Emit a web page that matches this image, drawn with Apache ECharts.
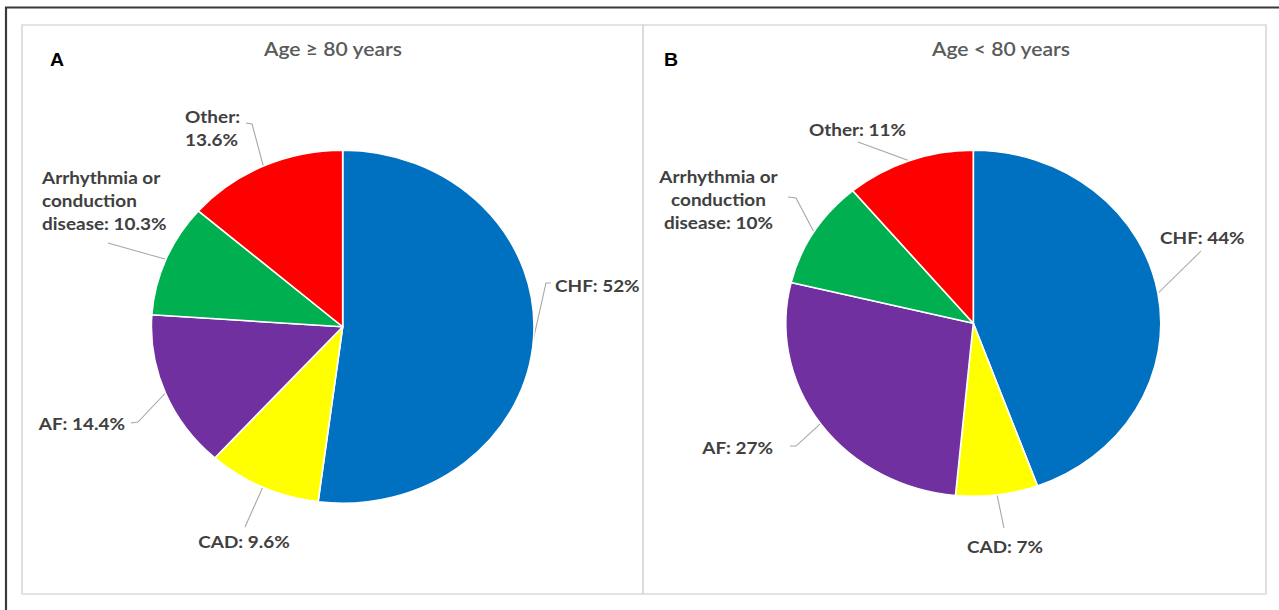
<!DOCTYPE html>
<html><head><meta charset="utf-8">
<script src="https://cdn.jsdelivr.net/npm/echarts@6/dist/echarts.min.js"></script>
<style>
html,body{margin:0;padding:0;background:#fff;overflow:hidden;width:1279px;height:610px}
#c{width:1180px;height:610px;transform:scaleX(1.083898);transform-origin:0 0}
</style></head><body><div id="c"></div>
<script>
// ---- data ----
const categories = ['CHF', 'CAD', 'AF', 'Arrhythmia or conduction disease', 'Other'];
const valuesA = [52, 9.6, 14.4, 10.3, 13.6];
const valuesB = [44, 7, 27, 10, 11];
const labelTplA = ['CHF: {v}%', 'CAD: {v}%', 'AF: {v}%', 'Arrhythmia or\nconduction\ndisease: {v}%', 'Other:\n{v}%'];
const labelTplB = ['CHF: {v}%', 'CAD: {v}%', 'AF: {v}%', 'Arrhythmia or\nconduction\ndisease: {v}%', 'Other: {v}%'];
const titles = ['Age \u2265 80 years', 'Age < 80 years'];
const panelLetters = ['A', 'B'];

// ---- styles / layout ----
const colors = ['#0070C0', '#FFFF00', '#7030A0', '#00B050', '#FF0000'];
const SX = 1279 / 1180; // horizontal stretch of the reference image
// label placement in page pixels; line = extra leader points from slice edge outward
const layoutA = [
  {x: 555, y: 285, align: 'left', line: [[546, 283], [551, 283]]},
  {x: 244, y: 541, align: 'center', line: [[245, 527]]},
  {x: 125, y: 423, align: 'right', line: [[138, 422], [131, 423]]},
  {x: 42, y: 200, align: 'left', line: [[108, 243]]},
  {x: 185, y: 127.5, align: 'left', line: [[252, 124], [246, 123]]}
];
const layoutB = [
  {x: 1160, y: 237, align: 'left', line: [[1201, 251]]},
  {x: 1005, y: 546, align: 'center', line: [[1004, 528]]},
  {x: 773, y: 447, align: 'right', line: [[796, 446], [790, 446]]},
  {x: 718.5, y: 199, align: 'center', line: [[796, 198], [788, 197]]},
  {x: 857.5, y: 129, align: 'center', line: [[858, 142]]}
];

function makeLayout(L) {
  return function (p) {
    const o = L[p.dataIndex];
    const pts = [p.labelLinePoints[0]].concat(o.line.map(q => [q[0] / SX, q[1]]));
    return {x: o.x / SX, y: o.y, align: o.align, verticalAlign: 'middle', labelLinePoints: pts};
  };
}

function pieSeries(values, tpl, center, radius, layout) {
  return {
    type: 'pie',
    center: center,
    radius: radius,
    startAngle: 90,
    clockwise: true,
    avoidLabelOverlap: false,
    animation: false,
    silent: true,
    data: categories.map((n, i) => ({name: n, value: values[i], itemStyle: {color: colors[i]}})),
    itemStyle: {borderColor: '#ffffff', borderWidth: 1.5},
    label: {
      show: true, position: 'outside', overflow: 'none',
      formatter: p => tpl[p.dataIndex].replace('{v}', String(values[p.dataIndex])),
      color: '#404040', fontFamily: 'Lato', fontWeight: 'bold', fontSize: 17.5, lineHeight: 23
    },
    labelLine: {show: true, length: 5, length2: 5, smooth: false, lineStyle: {color: '#a6a6a6', width: 1}},
    labelLayout: makeLayout(layout),
    emphasis: {disabled: true}
  };
}

const titleStyle = {fontFamily: 'Lato', fontSize: 19.5, fontWeight: 600, fill: '#5a5a5a', align: 'center', verticalAlign: 'middle'};
const letterStyle = {fontFamily: 'Liberation Sans', fontWeight: 'bold', fontSize: 18, fill: '#000000', align: 'left', verticalAlign: 'middle'};

const chart = echarts.init(document.getElementById('c'), null, {renderer: 'svg'});
chart.setOption({
  backgroundColor: '#ffffff',
  animation: false,
  graphic: [
    {type: 'rect', silent: true, shape: {x: 6 / SX, y: 7.5, width: 1400, height: 800},
      style: {fill: 'none', stroke: '#3a3a3a', lineWidth: 2}},
    {type: 'rect', silent: true, shape: {x: 22 / SX, y: 25, width: (643 - 22) / SX, height: 569},
      style: {fill: 'none', stroke: '#dadada', lineWidth: 1.5}},
    {type: 'rect', silent: true, shape: {x: 643 / SX, y: 25, width: (1266 - 643) / SX, height: 569},
      style: {fill: 'none', stroke: '#dadada', lineWidth: 1.5}},
    {type: 'text', silent: true, x: 333 / SX, y: 48.5, style: Object.assign({text: titles[0]}, titleStyle)},
    {type: 'text', silent: true, x: 1001 / SX, y: 48.5, style: Object.assign({text: titles[1]}, titleStyle)},
    {type: 'text', silent: true, x: 50 / SX, y: 60, style: Object.assign({text: panelLetters[0]}, letterStyle)},
    {type: 'text', silent: true, x: 664 / SX, y: 60, style: Object.assign({text: panelLetters[1]}, letterStyle)}
  ],
  series: [
    pieSeries(valuesA, labelTplA, [342.7 / SX, 326.7], 176.5, layoutA),
    pieSeries(valuesB, labelTplB, [973.3 / SX, 323.3], 173, layoutB)
  ]
});
</script></body></html>
